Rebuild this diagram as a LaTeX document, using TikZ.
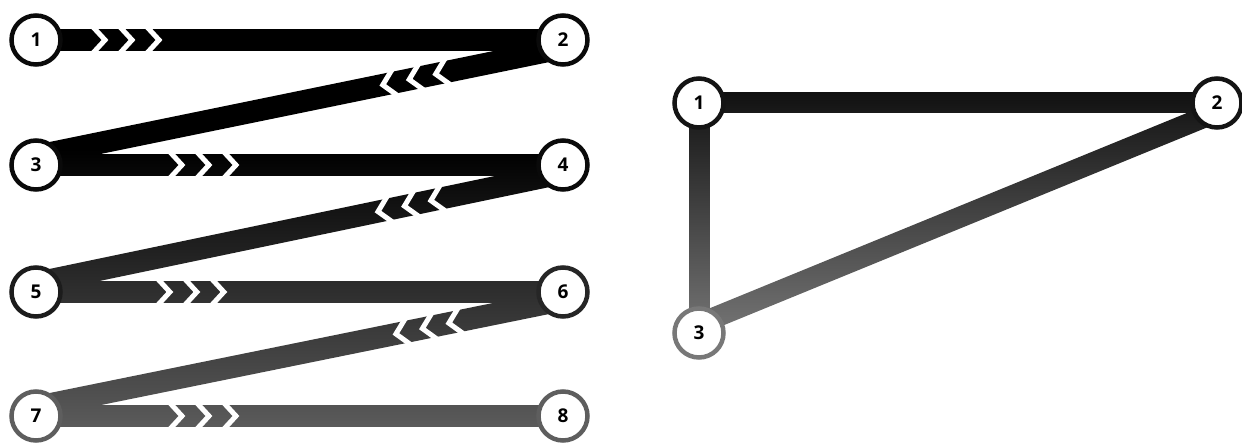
\documentclass[tikz,border=0pt]{standalone}
\usepackage{fontspec}
\setmainfont{Open Sans}
\usetikzlibrary{calc,fadings}
\pgfdeclarelayer{background}
\pgfsetlayers{background,main}
% vertical lightening of the dark bands towards the bottom
\tikzfading[name=leftfade, top color=transparent!100, middle color=transparent!91, bottom color=transparent!62]
\tikzfading[name=rightfade, top color=transparent!97, bottom color=transparent!50]
\definecolor{c5}{gray}{0.11}
\definecolor{c6}{gray}{0.15}
\definecolor{c7}{gray}{0.37}
\definecolor{r3}{gray}{0.47}
\tikzset{
  stn/.style={circle, fill=white, draw=#1, line width=4.5pt, minimum size=49pt,
    inner sep=0pt, font=\fontsize{19}{19}\selectfont\bfseries},
  band/.style={line width=22pt, draw=black},
  bandR/.style={line width=21pt, draw=black},
  chevR/.pic={\foreach \k in {0,27,54}
    \draw[white, line width=5pt, line join=miter] (\k-12,-13) -- (\k,0) -- (\k-12,13);},
  chevL/.pic={\foreach \k in {0,27,54}
    \draw[white, line width=5pt, line join=miter] (\k+12,-13) -- (\k,0) -- (\k+12,13);},
}
\begin{document}
\begin{tikzpicture}[x=1pt, y=-1pt]
\useasboundingbox (0,0) rectangle (1242,446);

% zig-zag order
\node[stn=black!96] (a1) at (36,40)  {1};
\node[stn=black!96] (a2) at (563,40) {2};
\node[stn=black!96] (a3) at (36,165) {3};
\node[stn=black!96] (a4) at (563,165) {4};
\node[stn=c5] (a5) at (36,292) {5};
\node[stn=c6] (a6) at (563,292) {6};
\node[stn=c7] (a7) at (36,416) {7};
\node[stn=c7] (a8) at (563,416) {8};

% triangle
\node[stn=black!92] (b1) at (699,103)  {1};
\node[stn=black!92] (b2) at (1217,103) {2};
\node[stn=r3]       (b3) at (699,333)  {3};

\begin{pgfonlayer}{background}
  % horizontal runs, left to right
  \draw[band] (a1.center) -- (a2.center) pic[pos=0.131, sloped] {chevR};
  \draw[band] (a3.center) -- (a4.center) pic[pos=0.277, sloped] {chevR};
  \draw[band] (a5.center) -- (a6.center) pic[pos=0.254, sloped] {chevR};
  \draw[band] (a7.center) -- (a8.center) pic[pos=0.277, sloped] {chevR};
  % diagonal returns, right to left
  \draw[band] ($(a3.center)+(0,-9)$) -- ($(a2.center)+(0,8)$) pic[pos=0.658, sloped] {chevL};
  \draw[band] ($(a5.center)+(0,-9)$) -- ($(a4.center)+(0,8)$) pic[pos=0.649, sloped] {chevL};
  \draw[band] ($(a7.center)+(0,-9)$) -- ($(a6.center)+(0,8)$) pic[pos=0.683, sloped] {chevL};

  % triangle edges
  \draw[bandR] (b1.center) -- (b2.center);
  \draw[bandR] (b1.center) -- (b3.center);
  \draw[bandR] ($(b3.center)+(0,-9)$) -- ($(b2.center)+(0,9)$);

  % lighten towards the bottom
  \fill[white, path fading=leftfade] (0,150) rectangle (600,446);
  \fill[white, path fading=rightfade] (640,70) rectangle (1242,360);
\end{pgfonlayer}
\end{tikzpicture}
\end{document}
